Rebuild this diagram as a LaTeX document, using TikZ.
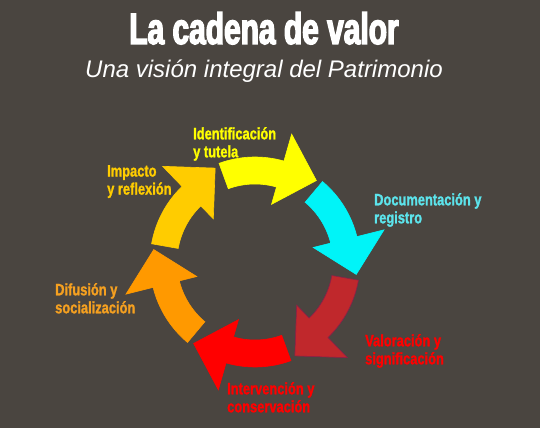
\documentclass[tikz,border=0pt]{standalone}
\usepackage{fontspec}
\setmainfont{Liberation Sans}
\newfontfamily\titlefont[FakeStretch=0.68,FakeBold=3]{Liberation Sans}
\newfontfamily\labelfont[FakeStretch=0.78,FakeBold=1.3]{Liberation Sans}
\usepackage{tikz}
\usetikzlibrary{positioning}

\definecolor{fondo}{HTML}{4A4540}
\definecolor{amarillo}{HTML}{FFFF00}
\definecolor{cian}{HTML}{00F4F8}
\definecolor{cianclaro}{HTML}{5CE4EC}
\definecolor{granate}{HTML}{C0282C}
\definecolor{borde}{HTML}{8E1F48}
\definecolor{rojo}{HTML}{FF0000}
\definecolor{naranja}{HTML}{FF9900}
\definecolor{naranjaclaro}{HTML}{F5A020}
\definecolor{ambar}{HTML}{FFCC00}

\begin{document}
\begin{tikzpicture}[x=1pt,y=1pt]
	\tikzset{etiqueta/.style={anchor=north west,inner sep=0pt,align=left,font=\labelfont\bfseries\fontsize{16.5}{18}\selectfont}}
	\fill[fondo] (0,0) rectangle (540,428);
	\useasboundingbox (0,0) rectangle (540,428);
	\node[white,inner sep=0pt,anchor=base,font=\titlefont\bfseries\fontsize{44}{44}\selectfont] (titulo) at (264,384) {La cadena de valor};
	\node[white,inner sep=0pt,anchor=base,font=\itshape\fontsize{24}{24}\selectfont] (subtitulo) at (264,350) {Una visión integral del Patrimonio};
	% flechas del ciclo
	\begin{scope}[shift={(255,166)}]
		\foreach \t/\col/\lin in {110/amarillo/amarillo,50/cian/cian,-10/granate/borde,-70/rojo/rojo,-130/naranja/naranja,-190/ambar/ambar}
			\filldraw[fill=\col,draw=\lin,line width=0.6pt] (\t:78pt) -- (\t:105pt) arc[start angle=\t,end angle=\t-36,radius=105pt]
				-- (\t-36:133pt) -- (\t-57:102pt) -- (\t-36:60pt) -- (\t-36:78pt)
				arc[start angle=\t-36,end angle=\t,radius=78pt] -- cycle;
	\end{scope}
	% etiquetas
	\node[etiqueta,amarillo] (identificacion) at (193,301) {Identificación\\y tutela};
	\node[etiqueta,cianclaro] (documentacion) at (374,235) {Documentación y\\registro};
	\node[etiqueta,rojo] (valoracion) at (365,94) {Valoración y\\significación};
	\node[etiqueta,rojo] (intervencion) at (227,46) {Intervención y\\conservación};
	\node[etiqueta,naranjaclaro] (difusion) at (55,145) {Difusión y\\socialización};
	\node[etiqueta,ambar] (impacto) at (107,263) {Impacto\\y reflexión};
\end{tikzpicture}
\end{document}
